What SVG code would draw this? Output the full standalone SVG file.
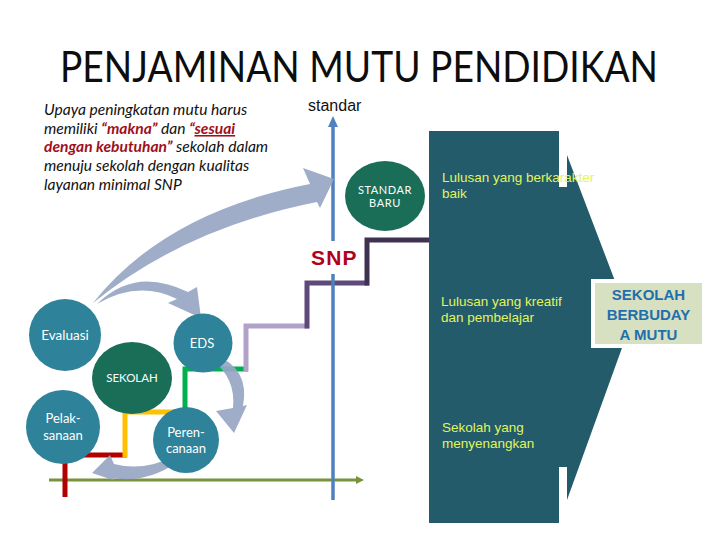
<svg xmlns="http://www.w3.org/2000/svg" width="720" height="540" viewBox="0 0 720 540">
<style>
.cal{font-family:Lato,"Open Sans",sans-serif}
.ar{font-family:"Liberation Sans",Arial,sans-serif}
.para{font-family:Lato,"Open Sans",sans-serif;font-style:italic;font-size:15.6px;fill:#111}
.em{font-weight:bold;fill:#a0101c}
.ctext{font-family:Lato,"Open Sans",sans-serif;fill:#fff;text-anchor:middle}
.teal{fill:#2e8299}
.dgreen{fill:#1a6e58}
.step{fill:none;stroke-width:5;stroke-linejoin:miter;stroke-linecap:butt}
.garrow{fill:#97a6c4;fill-opacity:0.92}
.lime{font-family:"Liberation Sans",Arial,sans-serif;font-size:13.5px;fill:#e0f45e}
</style>
<rect width="720" height="540" fill="#fff"/>
<text class="cal" x="60" y="82" font-size="42" textLength="598" lengthAdjust="spacingAndGlyphs" fill="#0d0d0d">PENJAMINAN MUTU PENDIDIKAN</text>

<g id="paragraph">
<text class="para" x="44" y="115">Upaya peningkatan mutu harus</text>
<text class="para" x="44" y="134">memiliki <tspan class="em">“makna”</tspan> dan <tspan class="em">“</tspan><tspan class="em" text-decoration="underline">sesuai</tspan></text>
<text class="para" x="44" y="152"><tspan class="em">dengan kebutuhan”</tspan> sekolah dalam</text>
<text class="para" x="44" y="171">menuju sekolah dengan kualitas</text>
<text class="para" x="44" y="190">layanan minimal SNP</text>
</g>

<g id="chevron">
<path d="M429,131 H559 V187 H567 V155 L631,323 L567,500 V467 H559 V523 H429 Z" fill="#235b6a"/>
<text class="lime" x="442" y="182">Lulusan yang berkarakter</text>
<text class="lime" x="442" y="198">baik</text>
<text class="lime" x="441" y="306">Lulusan yang kreatif</text>
<text class="lime" x="441" y="322">dan pembelajar</text>
<text class="lime" x="442" y="432">Sekolah yang</text>
<text class="lime" x="442" y="448">menyenangkan</text>
</g>

<g id="budaya-mutu">
<rect x="591" y="279" width="115" height="69" fill="#fff"/>
<rect x="595" y="283" width="107" height="61" fill="#d7e0c0"/>
<g class="ar" font-size="15" font-weight="bold" fill="#1f6fae" text-anchor="middle">
<text x="648.5" y="300">SEKOLAH</text>
<text x="648.5" y="320">BERBUDAY</text>
<text x="648.5" y="340">A MUTU</text>
</g>
</g>

<g id="connectors">
<line x1="49" y1="480" x2="358" y2="480" stroke="#77933c" stroke-width="3"/>
<polygon points="356,476 364,480 356,484" fill="#77933c"/>
<path class="step" stroke="#b00000" d="M65,497 V455 H127"/>
<path class="step" stroke="#ffc000" d="M125,457.5 V412 H187"/>
<path class="step" stroke="#00b050" d="M185,414.5 V369 H248"/>
<path class="step" stroke="#b3a2c7" d="M246,371.5 V326 H309"/>
<path class="step" stroke="#5f497a" d="M307,328.5 V283 H369"/>
<path class="step" stroke="#3f3151" d="M367,285.5 V240 H429"/>
<line x1="333" y1="500" x2="333" y2="126" stroke="#4f81bd" stroke-width="3.5"/>
<polygon points="328,127 338,127 333,116" fill="#4f81bd"/>
<path class="garrow" d="M93,303 Q165,212 310,184 L303,168 L334,179 L320,208 L317,202 Q185,228 93,303 Z"/>
<path class="garrow" d="M97,304 Q135,266 188,292 L197,287 L201,318 L168,303 L177,299 Q138,280 97,304 Z"/>
<path class="garrow" d="M215,355 Q250,368 243,406 L247,405 L234,433 L216,411 L233,408 Q236,378 212,360 Z"/>
<path class="garrow" d="M178,462 Q145,484 113,478 L113,480 L92,473 L110,455 L114,464 Q145,472 176,455 Z"/>
</g>

<g id="snp">
<rect x="305" y="241" width="58" height="33" fill="#fff"/>
<text class="ar" x="311" y="265" font-size="21" font-weight="bold" letter-spacing="1.2" fill="#b3001b">SNP</text>
</g>
<text id="standar" class="ar" x="308" y="111" font-size="16" fill="#111">standar</text>

<g id="standar-baru">
<ellipse class="dgreen" cx="385" cy="196" rx="40" ry="35"/>
<text class="ctext" x="385" y="194" font-size="11" letter-spacing="0.6">STANDAR</text>
<text class="ctext" x="385" y="207" font-size="11" letter-spacing="0.6">BARU</text>
</g>
<g id="evaluasi">
<circle class="teal" cx="65" cy="335" r="36"/>
<text class="ctext" x="65" y="340" font-size="13.5">Evaluasi</text>
</g>
<g id="eds">
<circle class="teal" cx="203" cy="343" r="29.5"/>
<text class="ctext" x="202" y="348" font-size="13">EDS</text>
</g>
<g id="sekolah">
<ellipse class="dgreen" cx="132" cy="378" rx="40" ry="36"/>
<text class="ctext" x="132" y="382" font-size="11.5">SEKOLAH</text>
</g>
<g id="pelaksanaan">
<circle class="teal" cx="63" cy="427" r="37"/>
<text class="ctext" x="63" y="423" font-size="13">Pelak-</text>
<text class="ctext" x="63" y="440" font-size="13">sanaan</text>
</g>
<g id="perencanaan">
<circle class="teal" cx="186" cy="440" r="33"/>
<text class="ctext" x="186" y="437" font-size="13">Peren-</text>
<text class="ctext" x="186" y="453" font-size="13">canaan</text>
</g>
</svg>
